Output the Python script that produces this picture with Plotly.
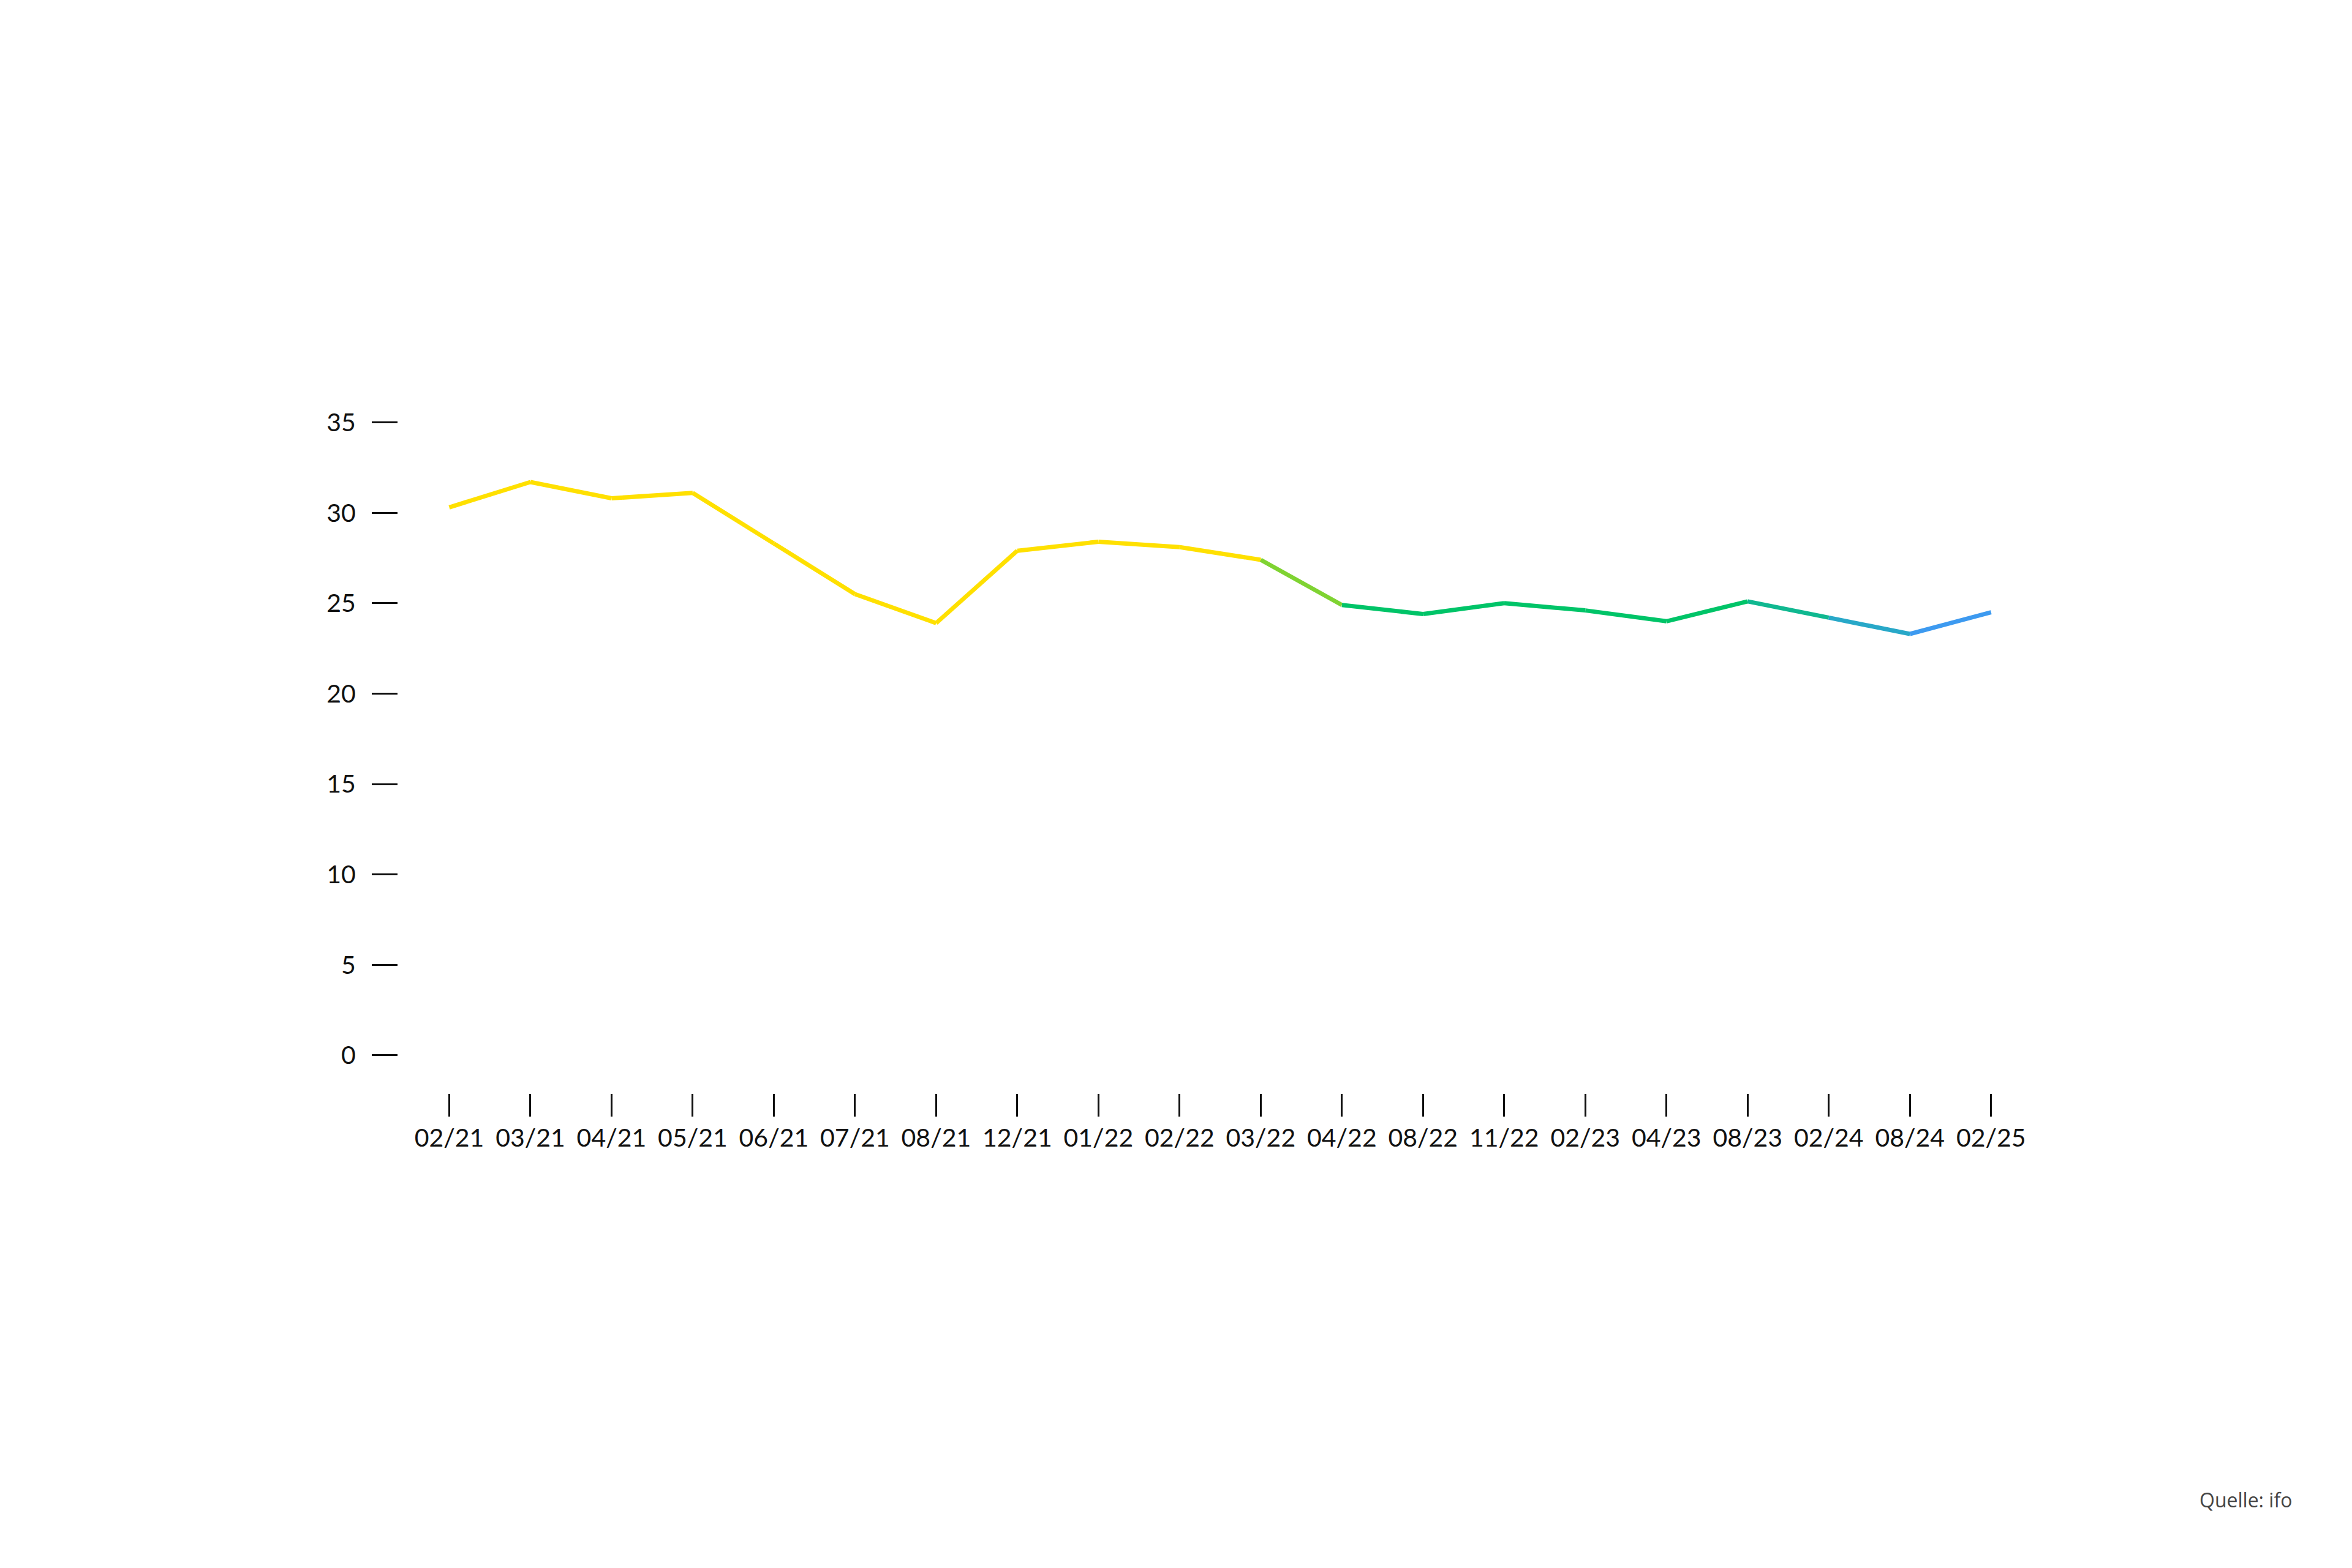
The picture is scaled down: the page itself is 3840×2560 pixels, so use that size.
import plotly.graph_objects as go

labels = ["02/21","03/21","04/21","05/21","06/21","07/21","08/21","12/21","01/22","02/22",
          "03/22","04/22","08/22","11/22","02/23","04/23","08/23","02/24","08/24","02/25"]
values = [30.3,31.7,30.8,31.1,28.3,25.5,23.9,27.9,28.4,28.1,
          27.4,24.9,24.4,25.0,24.6,24.0,25.1,24.2,23.3,24.5]
seg_colors = ["#FFE000"]*10 + ["#7FD332","#00C468","#00C468","#00C468","#00C468","#00C468",
              "#10B890","#28A8C8","#3D9AF0"]

fig = go.Figure()
xs = list(range(len(labels)))
for i in range(len(labels)-1):
    fig.add_trace(go.Scatter(x=[xs[i], xs[i+1]], y=[values[i], values[i+1]], mode="lines",
                             line=dict(color=seg_colors[i], width=7), showlegend=False,
                             hoverinfo="skip"))

font = dict(family="Lato, Inter, sans-serif", size=41, color="#111")
fig.update_layout(
    width=3840, height=2560, paper_bgcolor="white", plot_bgcolor="white",
    margin=dict(l=642, r=531, t=652, b=783), font=font,
    xaxis=dict(range=[-0.63, 19.5], tickmode="array", tickvals=xs, ticktext=labels,
               showgrid=False, zeroline=False, showline=False, ticks="outside",
               ticklen=37, tickwidth=3, tickcolor="#111"),
    yaxis=dict(range=[-2.1, 36], tickvals=[0,5,10,15,20,25,30,35],
               showgrid=False, zeroline=False, showline=False, ticks="outside",
               ticklen=42, tickwidth=3, tickcolor="#111", ticklabelstandoff=18),
    annotations=[dict(text="Quelle: ifo", xref="paper", yref="paper", x=1.16, y=-0.59,
                      xanchor="right", yanchor="middle", showarrow=False,
                      font=dict(family="Open Sans, sans-serif", size=32, color="#444"))],
)
fig.write_html("out.html")
